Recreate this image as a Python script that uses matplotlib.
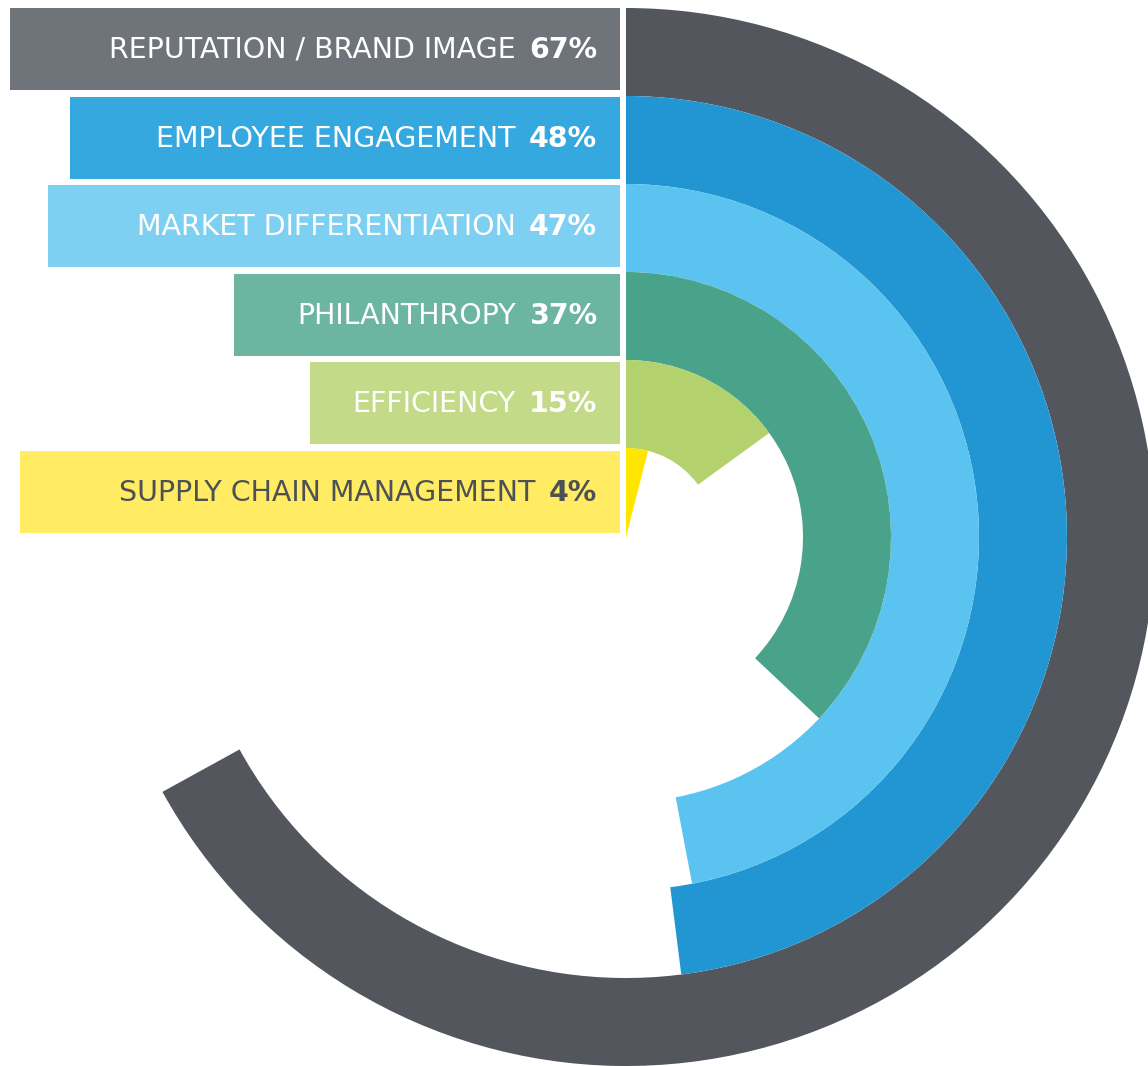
import matplotlib
matplotlib.use("Agg")
import matplotlib.pyplot as plt
from matplotlib.patches import Wedge, Rectangle

# ---- data ----
categories = ["REPUTATION / BRAND IMAGE", "EMPLOYEE ENGAGEMENT", "MARKET DIFFERENTIATION",
              "PHILANTHROPY", "EFFICIENCY", "SUPPLY CHAIN MANAGEMENT"]
values = [67, 48, 47, 37, 15, 4]
ring_colors = ["#53575D", "#2196D3", "#5BC3F0", "#49A38A", "#B3D16C", "#FFE500"]
box_colors = ["#6E7479", "#35A9DF", "#7ED0F3", "#6BB5A1", "#C3DA89", "#FFEC63"]
text_colors = ["white", "white", "white", "white", "white", "#4D5156"]
box_left = [10, 70, 48, 234, 310, 20]

# ---- layout ----
W, H = 1148, 1066
fig = plt.figure(figsize=(W / 100, H / 100), dpi=100)
ax = fig.add_axes([0, 0, 1, 1])
ax.set_xlim(0, W)
ax.set_ylim(H, 0)
ax.set_aspect("equal")
ax.axis("off")

cx, cy = 626, 537
ring_w = 88
outer_r = 529
n = len(values)

for i, (v, c) in enumerate(zip(values, ring_colors)):
    r_out = outer_r - i * ring_w
    width = ring_w if i < n - 1 else r_out
    sweep = v / 100 * 360
    t1 = -90
    t2 = -90 + sweep
    ax.add_patch(Wedge((cx, cy), r_out, t1, t2, width=width, facecolor=c, edgecolor="none"))

box_right = 620
box_h = 82
fs = 20.5
fig.canvas.draw()
renderer = fig.canvas.get_renderer()
for i in range(n):
    top = 8 + i * 88.6
    ax.add_patch(Rectangle((box_left[i], top), box_right - box_left[i], box_h,
                           facecolor=box_colors[i], edgecolor="none"))
    yc = top + box_h / 2 + 1
    pct = ax.text(597, yc, f"{values[i]}%", ha="right", va="center", fontsize=fs,
                  fontweight="bold", color=text_colors[i], family="DejaVu Sans")
    bb = pct.get_window_extent(renderer=renderer)
    x0_data = ax.transData.inverted().transform((bb.x0, 0))[0]
    ax.text(x0_data - 13, yc, categories[i], ha="right", va="center", fontsize=fs,
            color=text_colors[i], family="DejaVu Sans")

fig.savefig("out.png", dpi=100)
